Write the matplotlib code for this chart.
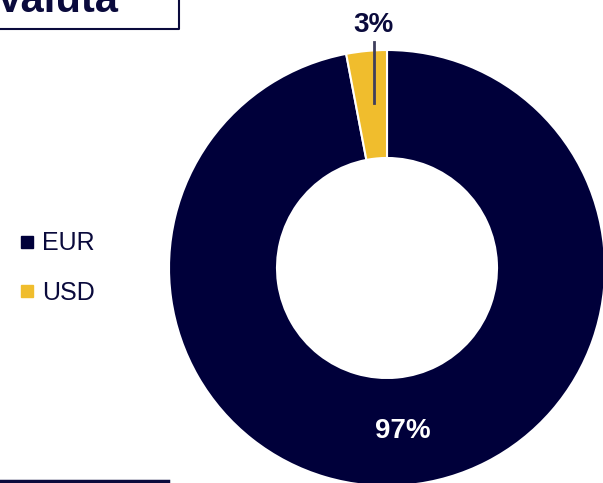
import numpy as np
import matplotlib.pyplot as plt
from matplotlib.lines import Line2D

plt.rcParams['font.family'] = ['Liberation Sans', 'DejaVu Sans']

valute = ["EUR", "USD"]
quote = [97, 3]
colori = ["#00003A", "#F0BD2D"]
navy = "#0A0A3C"

W, H = 603, 483
fig = plt.figure(figsize=(W / 100, H / 100), dpi=100)

# overlay in pixel coordinates for box and line
bg = fig.add_axes([0, 0, 1, 1])
bg.set_xlim(0, W)
bg.set_ylim(H, 0)
bg.axis("off")

# donut: center (387, 268), radius 218 px
cx, cy, R = 387, 268, 218
ax = fig.add_axes([(cx - R) / W, (H - cy - R) / H, 2 * R / W, 2 * R / H])
wedges, _ = ax.pie(quote, colors=colori, startangle=90, counterclock=False,
                   radius=1, wedgeprops=dict(width=108 / 218, edgecolor="white", linewidth=1.5))
ax.set_xlim(-1, 1)
ax.set_ylim(-1, 1)
ax.axis("off")

# labels
for w, q in zip(wedges, quote):
    mid = np.deg2rad((w.theta1 + w.theta2) / 2)
    if q > 10:
        ax.text(0.75 * np.cos(mid), 0.75 * np.sin(mid), f"{q}%", color="white",
                fontsize=20, fontweight="bold", ha="center", va="center")
    else:
        x0 = 0.76 * np.cos(mid) + 0.01
        ax.plot([x0, x0], [0.76 * np.sin(mid), 1.035], color="#3E3E5C", lw=2, clip_on=False)
        ax.text(x0, 1.115, f"{q}%", color=navy, fontsize=20, fontweight="bold",
                ha="center", va="center", clip_on=False)

# title box, mostly cut off at the top
bg.plot([-5, 179, 179], [29, 29, -5], color=navy, lw=1.5)
bg.text(-4, 12, "Valuta", color=navy, fontsize=30, fontweight="bold", ha="left", va="baseline")

# bottom rule
bg.plot([0, 168], [481, 481], color=navy, lw=2.5)

# legend
handles = [Line2D([], [], marker="s", ls="", color=c, markersize=8) for c in colori]
leg = fig.legend(handles, valute, loc="center left", bbox_to_anchor=(0.012, 1 - 268 / H),
                 frameon=False, fontsize=18, handlelength=0.6, handletextpad=0.3,
                 labelspacing=1.0, borderpad=0)
for t in leg.get_texts():
    t.set_color(navy)

fig.savefig("out.png", dpi=100)
